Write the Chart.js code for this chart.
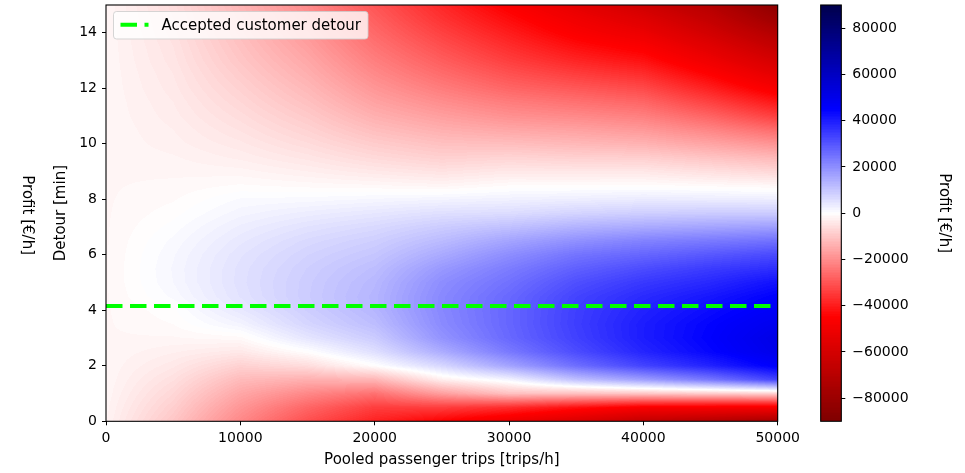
<!DOCTYPE html>
<html>
<head>
<meta charset="utf-8">
<script src="https://cdn.jsdelivr.net/npm/chart.js@4.4.1/dist/chart.umd.min.js"></script>
<style>
html,body{margin:0;padding:0;background:#fff;}
#wrap{position:relative;width:965px;height:473px;overflow:hidden;}
#wrap canvas{position:absolute;left:0;top:0;}
</style>
</head>
<body>
<div id="wrap">
  <canvas id="main" width="965" height="473"></canvas>
  <canvas id="cbar" width="965" height="473"></canvas>
</div>
<script>
// ---------------- data ----------------
// grid columns: pooled passenger trips [trips/h]
const tripsPerHour = [0, 5000, 10000, 15000, 20000, 25000, 30000, 35000, 40000, 45000, 50000];
// grid rows: detour [min]
const detourMin = [0, 0.5, 1, 1.5, 2, 2.5, 3, 3.5, 4, 4.5, 5, 5.5, 6, 6.5, 7, 7.5,
                   8, 8.5, 9, 9.5, 10, 10.5, 11, 11.5, 12, 12.5, 13, 13.5, 14, 14.5, 15];

// profit [€/h] at each detour row, one array per trips column
const profit_0 = [
  -2000, -1800, -1600, -1500, -1500, -1500, -1500, -1500,
  -1500, -1500, -1500, -1500, -1500, -1500, -1500, -1500,
  -1500, -1500, -1500, -1500, -1500, -1500, -1500, -1500,
  -1500, -1500, -1500, -1500, -1500, -1500, -1500];
const profit_5000 = [
  -10000, -8500, -7000, -5500, -4000, -2700, -1500, -700,
  -200, 900, 1400, 1500, 1300, 900, 300, -300,
  -800, -1200, -1600, -2000, -2500, -2800, -3200, -3500,
  -3900, -4200, -4600, -4900, -5300, -5600, -6000];
const profit_10000 = [
  -21000, -18500, -15500, -12000, -8000, -4000, -1000, 2000,
  4000, 5000, 5300, 5200, 4800, 4000, 3000, 1800,
  800, -600, -1800, -3000, -4000, -5000, -6000, -7000,
  -8000, -9000, -10000, -10800, -11600, -12300, -13000];
const profit_15000 = [
  -31000, -27000, -21000, -14000, -6000, -200, 4500, 7300,
  8600, 9000, 8900, 8500, 7700, 6600, 5000, 3100,
  1000, -1000, -2800, -4500, -6200, -7800, -9400, -11000,
  -12500, -14000, -15400, -16800, -18100, -19400, -20600];
const profit_20000 = [
  -39000, -34000, -25000, -13000, -300, 5500, 9000, 11500,
  12800, 13000, 12500, 11500, 10000, 8500, 6600, 4200,
  1500, -1300, -4000, -6600, -9000, -11500, -14000, -16300,
  -18500, -20600, -22600, -24500, -26400, -28200, -30000];
const profit_25000 = [
  -45000, -34000, -17000, -3000, 7000, 14500, 19000, 20500,
  21000, 20800, 20000, 18000, 15000, 12000, 9000, 5500,
  2000, -1800, -5000, -8200, -11000, -14000, -17000, -20000,
  -23000, -25800, -28500, -31000, -33500, -36000, -38000];
const profit_30000 = [
  -51000, -37000, -11000, 2000, 16000, 23500, 26500, 27000,
  27000, 26500, 25000, 23000, 20000, 16000, 11000, 6000,
  2500, -700, -4000, -7500, -11500, -15500, -19500, -23000,
  -27000, -30500, -34000, -37000, -40000, -43000, -46000];
const profit_35000 = [
  -58000, -42000, -11000, 11000, 25500, 31500, 33500, 34000,
  33800, 33000, 31000, 28000, 24500, 19500, 13500, 7500,
  3000, -600, -4200, -8200, -12500, -16500, -20800, -25000,
  -29500, -34000, -38500, -42500, -46500, -50000, -54000];
const profit_40000 = [
  -66000, -47000, -10000, 17000, 33000, 38500, 40000, 40000,
  39000, 37500, 35000, 31500, 27000, 22000, 15000, 8500,
  3500, -500, -4200, -8500, -13500, -18000, -22500, -27000,
  -32000, -37000, -42000, -46500, -51500, -56500, -62000];
const profit_45000 = [
  -71000, -47500, -9000, 24000, 39000, 44000, 45000, 44500,
  43000, 41000, 38000, 34500, 29500, 23500, 16000, 9000,
  3300, -1000, -5500, -10500, -16000, -21500, -27500, -33500,
  -39500, -45000, -50500, -55500, -61000, -66000, -71000];
const profit_50000 = [
  -76000, -48000, -8000, 33000, 46000, 50000, 51000, 49000,
  47000, 45000, 42000, 37000, 32000, 25000, 17000, 9000,
  3000, -1500, -7000, -12500, -19000, -26000, -34000, -41000,
  -48000, -54000, -60000, -66000, -72000, -79000, -85000];

const acceptedDetour = 4.15;           // accepted customer detour [min]
const profitLimits = [-90000, 90000];  // colour scale limits [€/h]

const xTicks = [0, 10000, 20000, 30000, 40000, 50000];
const yTicks = [0, 2, 4, 6, 8, 10, 12, 14];
const colorbarTicks = [-80000, -60000, -40000, -20000, 0, 20000, 40000, 60000, 80000];

// table built from the arrays above
const profitGrid = [profit_0, profit_5000, profit_10000, profit_15000, profit_20000, profit_25000,
                    profit_30000, profit_35000, profit_40000, profit_45000, profit_50000];

// ---------------- helpers ----------------
const FONT = 'DejaVu Sans';
const LABEL_SIZE = 15;
Chart.defaults.font.family = FONT;
Chart.defaults.font.size = 14;
Chart.defaults.color = '#000';

const SEISMIC = [[0,0,0.3],[0,0,1],[1,1,1],[1,0,0],[0.5,0,0]];
function seismicR(v) {
  let t = (v - profitLimits[0]) / (profitLimits[1] - profitLimits[0]);
  t = Math.min(1, Math.max(0, t));
  const i = Math.min(255, Math.floor(t * 256));
  const s = 1 - i / 255;
  const seg = Math.min(3, Math.floor(s * 4));
  const f = s * 4 - seg;
  const a = SEISMIC[seg], b = SEISMIC[seg + 1];
  return [0,1,2].map(k => Math.round(255 * (a[k] + (b[k] - a[k]) * f)));
}
function locate(arr, v) {
  if (v <= arr[0]) return [0, 0];
  if (v >= arr[arr.length - 1]) return [arr.length - 2, 1];
  let i = 0;
  while (v > arr[i + 1]) i++;
  return [i, (v - arr[i]) / (arr[i + 1] - arr[i])];
}
function tickLabel(v) { return String(v).replace('-', '\u2212'); }
function setTicks(list) { return axis => { axis.ticks = list.map(v => ({ value: v })); }; }
function noPad(s) { s.paddingTop = 0; s.paddingBottom = 0; s.paddingLeft = 0; s.paddingRight = 0; }

// ---------------- main chart ----------------
const heatPlugin = {
  id: 'heat',
  beforeDatasetsDraw(chart) {
    const { ctx, chartArea: a, scales: { x, y } } = chart;
    const L = Math.round(a.left), T = Math.round(a.top), R = Math.round(a.right), B = Math.round(a.bottom);
    const w = R - L, h = B - T;
    const img = ctx.createImageData(w, h);
    const cols = [];
    for (let px = 0; px < w; px++) cols.push(locate(tripsPerHour, x.getValueForPixel(L + px + 0.5)));
    for (let py = 0; py < h; py++) {
      const [j, fy] = locate(detourMin, y.getValueForPixel(T + py + 0.5));
      for (let px = 0; px < w; px++) {
        const [i, fx] = cols[px];
        const c0 = profitGrid[i], c1 = profitGrid[i + 1];
        const v0 = c0[j] * (1 - fy) + c0[j + 1] * fy;
        const v1 = c1[j] * (1 - fy) + c1[j + 1] * fy;
        const c = seismicR(v0 * (1 - fx) + v1 * fx);
        const o = (py * w + px) * 4;
        img.data[o] = c[0]; img.data[o + 1] = c[1]; img.data[o + 2] = c[2]; img.data[o + 3] = 255;
      }
    }
    ctx.putImageData(img, L, T);
  },
  afterDraw(chart) {
    const { ctx, chartArea: a } = chart;
    ctx.save();
    // frame
    ctx.strokeStyle = '#000';
    ctx.lineWidth = 1.1;
    ctx.strokeRect(a.left, a.top, a.right - a.left, a.bottom - a.top);
    // legend
    const ds = chart.data.datasets[0];
    ctx.font = LABEL_SIZE + 'px "' + FONT + '"';
    const label = ds.label;
    const tw = ctx.measureText(label).width;
    const bx = a.left + 7.5, by = a.top + 6.5, bh = 27.5;
    const bw = 7 + 28 + 13 + tw + 7;
    ctx.beginPath();
    ctx.roundRect(bx, by, bw, bh, 3);
    ctx.fillStyle = 'rgba(255,255,255,0.8)';
    ctx.fill();
    ctx.strokeStyle = 'rgba(204,204,204,0.8)';
    ctx.lineWidth = 1;
    ctx.stroke();
    ctx.beginPath();
    ctx.setLineDash(ds.borderDash);
    ctx.lineCap = 'butt';
    ctx.strokeStyle = ds.borderColor;
    ctx.lineWidth = ds.borderWidth;
    ctx.moveTo(bx + 7, by + 13.3);
    ctx.lineTo(bx + 35, by + 13.3);
    ctx.stroke();
    ctx.setLineDash([]);
    ctx.fillStyle = '#000';
    ctx.textAlign = 'left';
    ctx.textBaseline = 'alphabetic';
    ctx.fillText(label, bx + 48, by + 18);
    // extra rotated label on the far left
    ctx.translate(26.5, (a.top + a.bottom) / 2 + 2);
    ctx.rotate(Math.PI / 2);
    ctx.textAlign = 'center';
    ctx.textBaseline = 'middle';
    ctx.fillText('Profit [\u20AC/h]', 0, 0);
    ctx.restore();
  }
};

new Chart(document.getElementById('main'), {
  type: 'scatter',
  data: {
    datasets: [{
      label: 'Accepted customer detour',
      data: [{ x: tripsPerHour[0], y: acceptedDetour }, { x: tripsPerHour[tripsPerHour.length - 1], y: acceptedDetour }],
      showLine: true,
      borderColor: '#00ff00',
      backgroundColor: '#00ff00',
      borderWidth: 4,
      borderDash: [16.5, 7.5],
      borderCapStyle: 'butt',
      pointRadius: 0,
      pointHoverRadius: 0
    }]
  },
  options: {
    responsive: false,
    animation: false,
    devicePixelRatio: 1,
    events: [],
    layout: { padding: { left: 0, top: 5, right: 187.3, bottom: 0 } },
    plugins: { legend: { display: false }, tooltip: { enabled: false } },
    scales: {
      x: {
        type: 'linear', position: 'bottom',
        min: 0, max: 50000,
        afterBuildTicks: setTicks(xTicks),
        afterFit: s => { s.height = 51.7; noPad(s); },
        ticks: { callback: tickLabel, maxRotation: 0, autoSkip: false, padding: 5, color: '#000' },
        grid: { drawOnChartArea: false, drawTicks: true, tickLength: 4, tickColor: '#000', tickWidth: 1 },
        border: { display: false },
        title: { display: true, text: 'Pooled passenger trips [trips/h]', color: '#000',
                 font: { size: LABEL_SIZE }, padding: { top: 0, bottom: 4 } }
      },
      y: {
        type: 'linear', position: 'left',
        min: 0, max: 15,
        afterBuildTicks: setTicks(yTicks),
        afterFit: s => { s.width = 106; noPad(s); },
        ticks: { callback: tickLabel, autoSkip: false, padding: 5, color: '#000' },
        grid: { drawOnChartArea: false, drawTicks: true, tickLength: 4, tickColor: '#000', tickWidth: 1 },
        border: { display: false },
        title: { display: true, text: 'Detour [min]', color: '#000',
                 font: { size: LABEL_SIZE }, padding: { top: 52.5, bottom: 0 } }
      }
    }
  },
  plugins: [heatPlugin]
});

// ---------------- colour bar ----------------
const cbarPlugin = {
  id: 'cbar',
  beforeDatasetsDraw(chart) {
    const { ctx, chartArea: a, scales: { y } } = chart;
    ctx.save();
    const T = Math.round(a.top), B = Math.round(a.bottom);
    for (let py = T; py < B; py++) {
      const c = seismicR(y.getValueForPixel(py + 0.5));
      ctx.fillStyle = 'rgb(' + c.join(',') + ')';
      ctx.fillRect(a.left, py, a.right - a.left, 1);
    }
    ctx.strokeStyle = '#000';
    ctx.lineWidth = 1.1;
    ctx.strokeRect(a.left, a.top, a.right - a.left, a.bottom - a.top);
    ctx.restore();
  }
};

new Chart(document.getElementById('cbar'), {
  type: 'scatter',
  data: { datasets: [] },
  options: {
    responsive: false,
    animation: false,
    devicePixelRatio: 1,
    events: [],
    layout: { padding: { left: 820.7, top: 5, right: 0, bottom: 51.7 } },
    plugins: { legend: { display: false }, tooltip: { enabled: false } },
    scales: {
      x: { type: 'linear', display: false, min: 0, max: 1 },
      y: {
        type: 'linear', position: 'right',
        min: profitLimits[0], max: profitLimits[1],
        afterBuildTicks: setTicks(colorbarTicks),
        afterFit: s => { s.width = 123.7; noPad(s); },
        ticks: { callback: tickLabel, autoSkip: false, padding: 7, color: '#000' },
        grid: { drawOnChartArea: false, drawTicks: true, tickLength: 4, tickColor: '#000', tickWidth: 1 },
        border: { display: false },
        title: { display: true, text: 'Profit [\u20AC/h]', color: '#000',
                 font: { size: LABEL_SIZE }, padding: { top: 12.5, bottom: 0 } }
      }
    }
  },
  plugins: [cbarPlugin]
});
</script>
</body>
</html>
